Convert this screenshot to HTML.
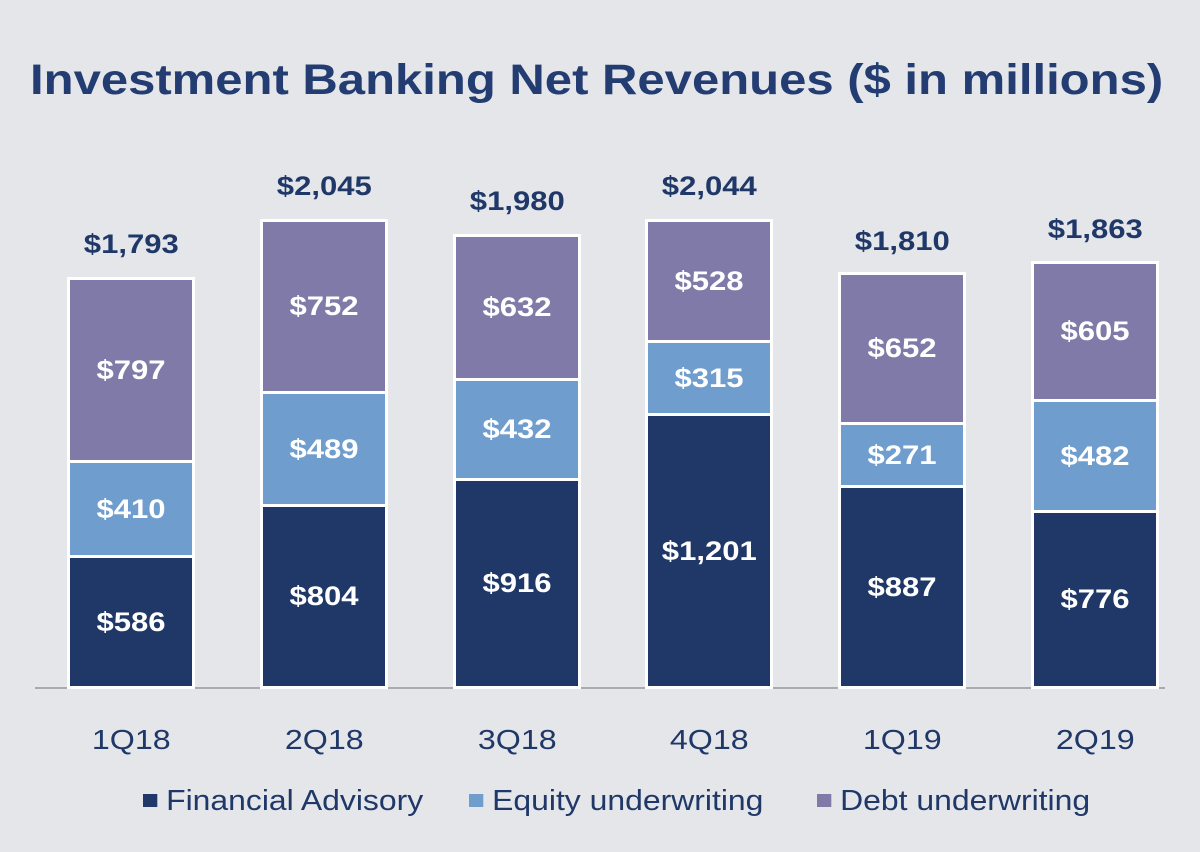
<!DOCTYPE html>
<html><head><meta charset="utf-8"><style>
body{margin:0;width:1200px;height:852px;background:#e5e6ea;font-family:"Liberation Sans",Arial,sans-serif;position:relative;overflow:hidden;color:#1f3868}
.t{position:absolute;left:30px;top:56px;font-size:43px;font-weight:bold;color:#233d73;white-space:nowrap;transform-origin:0 0;transform:scaleX(1.14)}
.s{position:absolute;box-sizing:border-box;border:3px solid #fff;display:flex;align-items:center;justify-content:center;color:#fff;font-weight:bold;font-size:27px}
.s span,.tot span,.xl span{display:inline-block;transform:scaleX(1.15)}
.fa{background:#1f3868}.eu{background:#6f9dce}.du{background:#7f7aa8}
.tot{position:absolute;width:160px;text-align:center;font-weight:bold;font-size:27px;color:#1f3868}
.xl{position:absolute;top:724px;width:160px;text-align:center;font-size:28px;color:#1f3868}
.ax{position:absolute;left:35px;width:1130px;top:687px;height:2px;background:#a9abb0}
.lg{position:absolute;top:785px;font-size:29px;color:#1f3868;white-space:nowrap;transform-origin:0 0;transform:scaleX(1.1)}
.sq{display:inline-block;width:13px;height:13px;margin-right:8px;vertical-align:3px}
</style></head><body>
<div class="t">Investment Banking Net Revenues ($ in millions)</div>
<div class="ax"></div>

<div class="tot" style="left:51px;top:229px"><span>$1,793</span></div>
<div class="s du" style="left:67px;top:277px;width:128px;height:186px"><span>$797</span></div>
<div class="s eu" style="left:67px;top:460px;width:128px;height:98px"><span>$410</span></div>
<div class="s fa" style="left:67px;top:555px;width:128px;height:134px"><span>$586</span></div>

<div class="tot" style="left:244px;top:171px"><span>$2,045</span></div>
<div class="s du" style="left:260px;top:219px;width:128px;height:175px"><span>$752</span></div>
<div class="s eu" style="left:260px;top:391px;width:128px;height:116px"><span>$489</span></div>
<div class="s fa" style="left:260px;top:504px;width:128px;height:185px"><span>$804</span></div>

<div class="tot" style="left:437px;top:186px"><span>$1,980</span></div>
<div class="s du" style="left:453px;top:234px;width:128px;height:147px"><span>$632</span></div>
<div class="s eu" style="left:453px;top:378px;width:128px;height:103px"><span>$432</span></div>
<div class="s fa" style="left:453px;top:478px;width:128px;height:211px"><span>$916</span></div>

<div class="tot" style="left:629px;top:171px"><span>$2,044</span></div>
<div class="s du" style="left:645px;top:219px;width:128px;height:124px"><span>$528</span></div>
<div class="s eu" style="left:645px;top:340px;width:128px;height:76px"><span>$315</span></div>
<div class="s fa" style="left:645px;top:413px;width:128px;height:276px"><span>$1,201</span></div>

<div class="tot" style="left:822px;top:226px"><span>$1,810</span></div>
<div class="s du" style="left:838px;top:272px;width:128px;height:153px"><span>$652</span></div>
<div class="s eu" style="left:838px;top:422px;width:128px;height:66px"><span>$271</span></div>
<div class="s fa" style="left:838px;top:485px;width:128px;height:204px"><span>$887</span></div>

<div class="tot" style="left:1015px;top:214px"><span>$1,863</span></div>
<div class="s du" style="left:1031px;top:261px;width:128px;height:141px"><span>$605</span></div>
<div class="s eu" style="left:1031px;top:399px;width:128px;height:114px"><span>$482</span></div>
<div class="s fa" style="left:1031px;top:510px;width:128px;height:179px"><span>$776</span></div>

<div class="xl" style="left:51px"><span>1Q18</span></div>
<div class="xl" style="left:244px"><span>2Q18</span></div>
<div class="xl" style="left:437px"><span>3Q18</span></div>
<div class="xl" style="left:629px"><span>4Q18</span></div>
<div class="xl" style="left:822px"><span>1Q19</span></div>
<div class="xl" style="left:1015px"><span>2Q19</span></div>

<div class="lg" style="left:143px"><span class="sq fa"></span>Financial Advisory</div>
<div class="lg" style="left:469px"><span class="sq eu"></span>Equity underwriting</div>
<div class="lg" style="left:817px"><span class="sq du"></span>Debt underwriting</div>
</body></html>
